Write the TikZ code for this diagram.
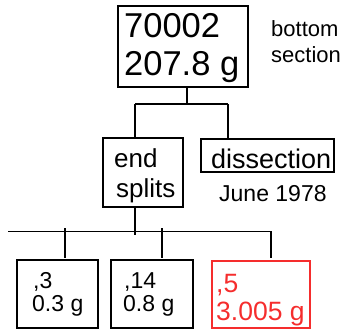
\documentclass[tikz,border=0pt]{standalone}
\usepackage{fontspec}
\setmainfont{Liberation Sans}
\definecolor{boxred}{RGB}{245,45,45}
\begin{document}
\begin{tikzpicture}[x=1pt,y=-1pt,
  box/.style={draw,rectangle,line width=1.2pt,inner sep=0pt},
  txt/.style={anchor=base west,inner sep=0pt},
  conn/.style={line width=1.2pt}]
\useasboundingbox (0,0) rectangle (346,333);
% boxes
\node[box,minimum width=130pt,minimum height=81pt] (top) at (183,46.5) {};
\node[box,minimum width=80pt,minimum height=69pt] (ends) at (143,172.5) {};
\node[box,minimum width=133pt,minimum height=33pt] (diss) at (267.5,155.5) {};
\node[box,minimum width=81pt,minimum height=68pt] (b1) at (57.5,294) {};
\node[box,minimum width=82pt,minimum height=68pt] (b2) at (152,294) {};
\node[box,draw=boxred,minimum width=98pt,minimum height=67pt] (b3) at (261,294.5) {};
% texts
\node[txt,font=\fontsize{34.5}{34.5}\selectfont] (t1) at (124,37) {70002};
\node[txt,font=\fontsize{34.5}{34.5}\selectfont] (t2) at (124,75) {207.8 g};
\node[txt,font=\fontsize{22}{22}\selectfont] (bs1) at (271,36) {bottom};
\node[txt,font=\fontsize{22}{22}\selectfont] (bs2) at (271,62) {section};
\node[txt,font=\fontsize{26}{26}\selectfont] (e1) at (114,167) {end};
\node[txt,font=\fontsize{26}{26}\selectfont] (e2) at (116,197) {splits};
\node[txt,font=\fontsize{27}{27}\selectfont] (d1) at (211,168) {dissection};
\node[txt,font=\fontsize{23}{23}\selectfont] (j1) at (219,201) {June 1978};
\node[txt,font=\fontsize{23}{23}\selectfont] (a1) at (33,288) {,3};
\node[txt,font=\fontsize{23}{23}\selectfont] (a2) at (32,311) {0.3 g};
\node[txt,font=\fontsize{23}{23}\selectfont] (c1) at (124,288) {,14};
\node[txt,font=\fontsize{23}{23}\selectfont] (c2) at (123,311) {0.8 g};
\node[txt,text=boxred,font=\fontsize{26.5}{26.5}\selectfont] (r1) at (216,292) {,5};
\node[txt,text=boxred,font=\fontsize{26.5}{26.5}\selectfont] (r2) at (216,320) {3.005 g};
% connector coordinates
\coordinate (topout) at (187,87);
\coordinate (j1c) at (187,104);
\coordinate (hl) at (135,104);
\coordinate (hr) at (228,104);
\coordinate (endsout) at (135,207);
\coordinate (j2c) at (135,235);
\coordinate (h2l) at (8,231.5);
\coordinate (h2r) at (272,231.5);
\coordinate (k1) at (65,228);
\coordinate (k1e) at (65,258);
\coordinate (k2) at (162,228);
\coordinate (k2e) at (162,258);
\coordinate (k3) at (271,231.5);
\coordinate (k3e) at (271,258);
% connectors
\draw[conn] (topout) -- (j1c);
\draw[conn] (hl) -- (hr);
\draw[conn] (hl) -- (hl |- ends.north);
\draw[conn] (hr) -- (hr |- diss.north);
\draw[conn] (endsout) -- (j2c);
\draw[conn] (h2l) -- (h2r);
\draw[conn] (k1) -- (k1e);
\draw[conn] (k2) -- (k2e);
\draw[conn] (k3) -- (k3e);
\end{tikzpicture}
\end{document}
